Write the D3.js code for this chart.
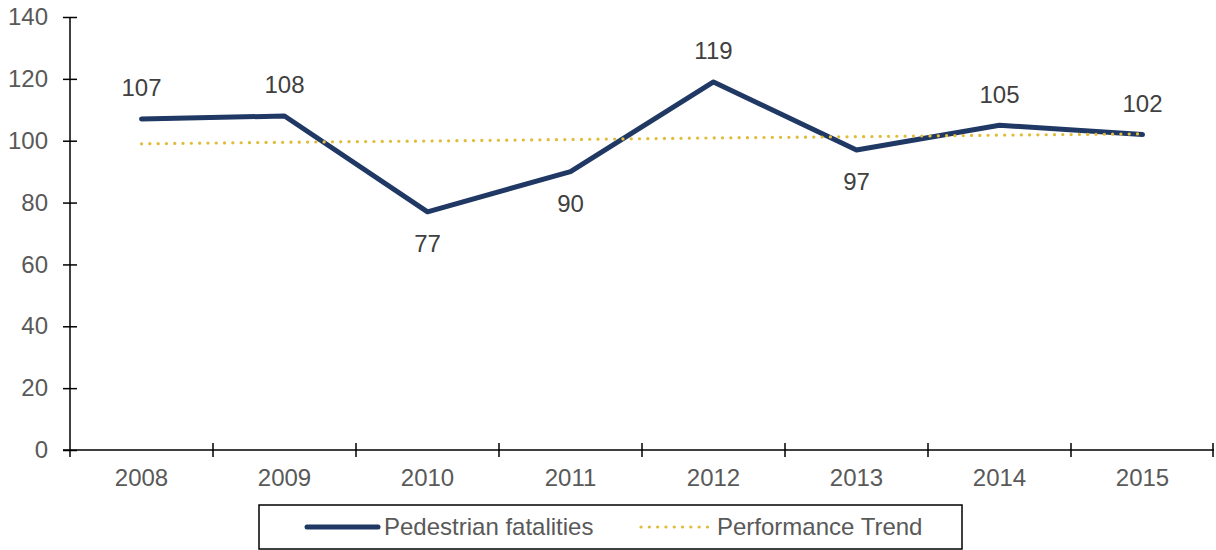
<!DOCTYPE html>
<html>
<head>
<meta charset="utf-8">
<script src="https://cdn.jsdelivr.net/npm/d3@7"></script>
<style>
  body { margin: 0; background: #fff; }
  text { font-family: "Liberation Sans", Arial, sans-serif; }
</style>
</head>
<body>
<div id="chart"></div>
<script>
var years = ["2008", "2009", "2010", "2011", "2012", "2013", "2014", "2015"];
var fatalities = [107, 108, 77, 90, 119, 97, 105, 102];
var trend = [99.0, 99.5, 99.9, 100.4, 100.9, 101.3, 101.8, 102.2];
var labelSide = ["up", "up", "down", "down", "up", "down", "up", "up"];
var yTicks = [0, 20, 40, 60, 80, 100, 120, 140];
var legendNames = ["Pedestrian fatalities", "Performance Trend"];

var navy = "#1f3864";
var gold = "#e0bc3a";

var svg = d3.select("#chart")
    .append("svg")
    .attr("width", 1216)
    .attr("height", 550);

var x = d3.scaleBand().domain(years).range([70, 1214]);
var y = d3.scaleLinear().domain([0, 140]).range([450, 17]);

// y axis
var yAxis = svg.append("g")
    .attr("transform", "translate(" + 70 + "," + 0 + ")")
    .call(d3.axisLeft(y).tickValues(yTicks).tickSize(7).tickPadding(15));
yAxis.select(".domain").remove();
yAxis.selectAll(".tick line").attr("x1", 7).attr("stroke", "#000").attr("stroke-width", 1.5);
yAxis.selectAll(".tick text")
    .attr("fill", "#595959")
    .style("font-size", "24px")
    .style("font-family", "'Liberation Sans', Arial, sans-serif");
svg.append("line")
    .attr("x1", 70).attr("x2", 70)
    .attr("y1", y(140)).attr("y2", 457)
    .attr("stroke", "#000").attr("stroke-width", 1.5);

// x axis
svg.append("line")
    .attr("x1", 63).attr("x2", 1214)
    .attr("y1", y(0)).attr("y2", y(0))
    .attr("stroke", "#000").attr("stroke-width", 1.5);
var edges = years.map(d => x(d)).concat([x.range()[1] - 1]);
svg.selectAll(".xtick")
    .data(edges.slice(1)).enter().append("line")
    .attr("class", "xtick")
    .attr("x1", d => d).attr("x2", d => d)
    .attr("y1", y(0) - 7).attr("y2", y(0) + 7)
    .attr("stroke", "#000").attr("stroke-width", 1.5);
svg.selectAll(".xlabel")
    .data(years).enter().append("text")
    .attr("class", "xlabel")
    .attr("x", d => x(d) + x.bandwidth() / 2)
    .attr("y", 478)
    .attr("dy", "0.35em")
    .attr("text-anchor", "middle")
    .attr("fill", "#595959")
    .style("font-size", "24px")
    .text(d => d);

var cx = d => x(d) + x.bandwidth() / 2;

// main line
var line = d3.line()
    .x((d, i) => cx(years[i]))
    .y(d => y(d));
svg.append("path")
    .datum(fatalities)
    .attr("d", line)
    .attr("fill", "none")
    .attr("stroke", navy)
    .attr("stroke-width", 5)
    .attr("stroke-linejoin", "round")
    .attr("stroke-linecap", "round");

// trend line
svg.append("path")
    .datum(trend)
    .attr("d", line)
    .attr("fill", "none")
    .attr("stroke", gold)
    .attr("stroke-width", 3.2)
    .attr("stroke-linecap", "round")
    .attr("stroke-dasharray", "0.1 8.2");

// data labels
svg.selectAll(".dlabel")
    .data(fatalities).enter().append("text")
    .attr("class", "dlabel")
    .attr("x", (d, i) => cx(years[i]))
    .attr("y", (d, i) => y(d) + (labelSide[i] == "up" ? -31 : 32))
    .attr("dy", "0.35em")
    .attr("text-anchor", "middle")
    .attr("fill", "#404040")
    .style("font-size", "24px")
    .text(d => d);

// legend
var legend = svg.append("g");
legend.append("rect")
    .attr("x", 259).attr("y", 505)
    .attr("width", 703).attr("height", 44)
    .attr("fill", "#fff")
    .attr("stroke", "#000").attr("stroke-width", 1.5);
legend.append("line")
    .attr("x1", 307).attr("x2", 378)
    .attr("y1", 527).attr("y2", 527)
    .attr("stroke", navy).attr("stroke-width", 5)
    .attr("stroke-linecap", "round");
legend.append("text")
    .attr("x", 384).attr("y", 527).attr("dy", "0.35em")
    .attr("fill", "#595959")
    .style("font-size", "24px")
    .text(legendNames[0]);
legend.append("line")
    .attr("x1", 641).attr("x2", 712)
    .attr("y1", 527).attr("y2", 527)
    .attr("stroke", gold).attr("stroke-width", 3.2)
    .attr("stroke-linecap", "round")
    .attr("stroke-dasharray", "0.1 8.2");
legend.append("text")
    .attr("x", 717).attr("y", 527).attr("dy", "0.35em")
    .attr("fill", "#595959")
    .style("font-size", "24px")
    .text(legendNames[1]);
</script>
</body>
</html>
